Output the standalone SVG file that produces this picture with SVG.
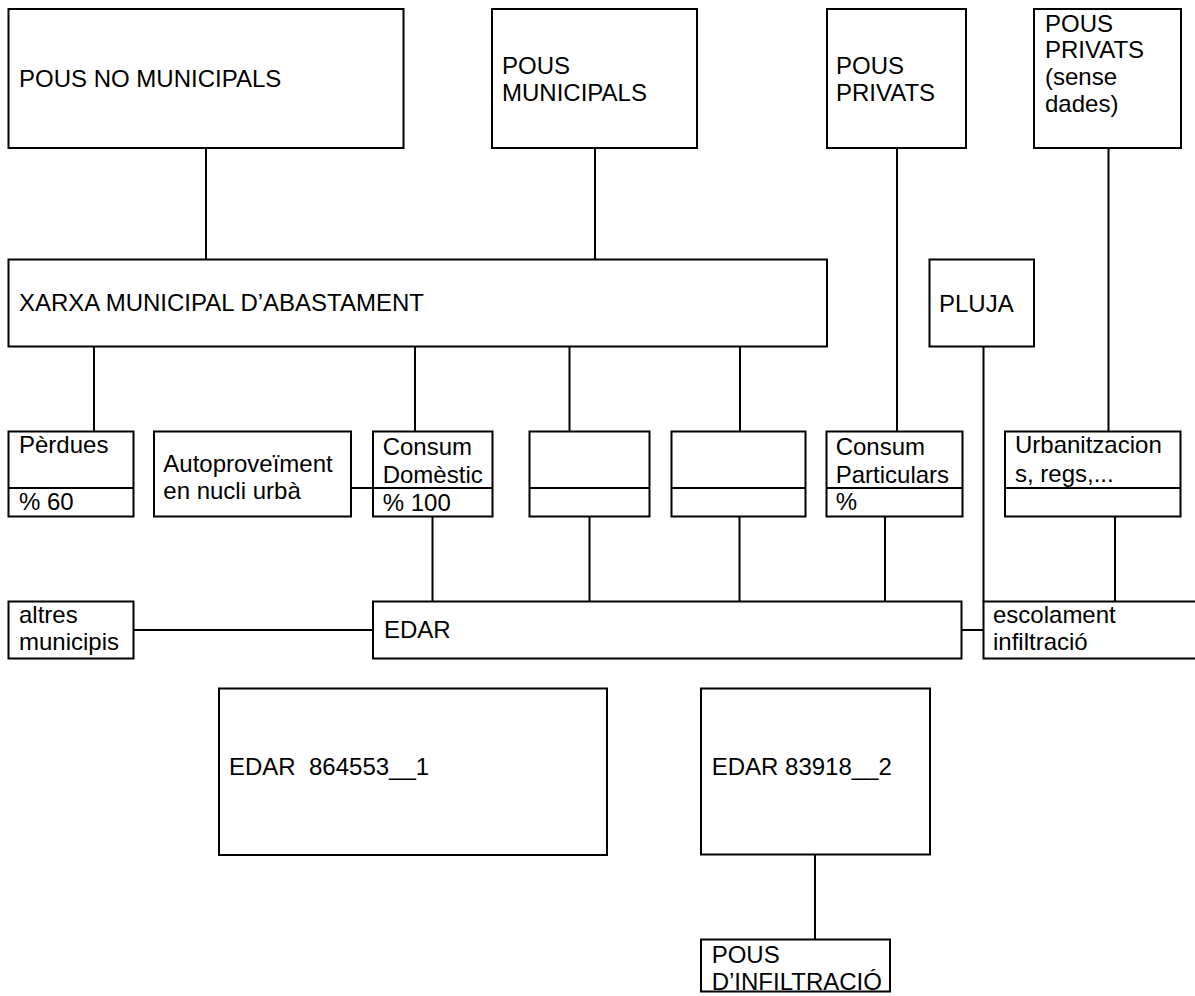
<svg xmlns="http://www.w3.org/2000/svg" width="1195" height="996" viewBox="0 0 1195 996">
<style>
rect{fill:#fff;stroke:#000;stroke-width:2}
line,path{stroke:#000;stroke-width:2;fill:none}
text{font-family:"Liberation Sans",Arial,sans-serif;font-size:24px;fill:#000}
</style>
<rect x="0" y="0" width="1195" height="996" style="stroke:none"/>
<g id="connectors">
<path d="M206,148V259.5M595,148V259.5M897,148V431.5M1108.5,148V431.5M94,346.5V431.5M415,346.5V431.5M569.5,346.5V431.5M740,346.5V431.5M983.5,346.5V601.5M351,488H373M432.5,516.5V601.5M589.5,516.5V601.5M739.5,516.5V601.5M885,516.5V601.5M1115,516.5V601.5M133.5,630H373M961.5,630H983.5M815,854.5V939.5"/>
</g>
<g id="pous_no_municipals"><rect x="8.5" y="9" width="395" height="139"/><text x="19" y="87">POUS NO MUNICIPALS</text></g>
<g id="pous_municipals"><rect x="492" y="9" width="205" height="139"/><text x="502" y="74">POUS</text><text x="502" y="100.7">MUNICIPALS</text></g>
<g id="pous_privats"><rect x="827" y="9" width="139" height="139"/><text x="836" y="74">POUS</text><text x="836" y="100.7">PRIVATS</text></g>
<g id="pous_privats_sense_dades"><rect x="1034" y="9" width="147" height="139"/><text x="1045" y="31.7">POUS</text><text x="1045" y="58.4">PRIVATS</text><text x="1045" y="85.1">(sense</text><text x="1045" y="111.8">dades)</text></g>
<g id="xarxa"><rect x="8.5" y="259.5" width="818.5" height="87"/><text x="19" y="310.7">XARXA MUNICIPAL D’ABASTAMENT</text></g>
<g id="pluja"><rect x="929.5" y="259.5" width="104.5" height="87"/><text x="939" y="311.7">PLUJA</text></g>
<g id="perdues"><rect x="8.5" y="431.5" width="125" height="85"/><path d="M8.5,488H133.5"/><text x="19" y="453.3">Pèrdues</text><text x="19" y="510">% 60</text></g>
<g id="autoproveiment"><rect x="154" y="431.5" width="197" height="85"/><text x="163.3" y="471.5">Autoproveïment</text><text x="163.3" y="498.5">en nucli urbà</text></g>
<g id="consum_domestic"><rect x="373" y="431.5" width="119.5" height="85"/><path d="M373,488H492.5"/><text x="382.7" y="455">Consum</text><text x="382.7" y="483">Domèstic</text><text x="382.7" y="510.5">% 100</text></g>
<g id="blank1"><rect x="529.5" y="431.5" width="120" height="85"/><path d="M529.5,488H649.5"/></g>
<g id="blank2"><rect x="671.5" y="431.5" width="134" height="85"/><path d="M671.5,488H805.5"/></g>
<g id="consum_particulars"><rect x="826.5" y="431.5" width="136" height="85"/><path d="M826.5,488H962.5"/><text x="835.7" y="455">Consum</text><text x="835.7" y="483">Particulars</text><text x="835.7" y="510">%</text></g>
<g id="urbanitzacions"><rect x="1005" y="431.5" width="175.5" height="85"/><path d="M1005,488H1180.5"/><text x="1015" y="453.3">Urbanitzacion</text><text x="1015" y="481.7">s, regs,...</text></g>
<g id="altres_municipis"><rect x="8.5" y="601.5" width="125" height="57"/><text x="19" y="623.3">altres</text><text x="19" y="650">municipis</text></g>
<g id="edar"><rect x="373" y="601.5" width="588.5" height="57"/><text x="384" y="638.3">EDAR</text></g>
<g id="escolament"><rect x="983.5" y="601.5" width="230" height="57"/><text x="993" y="623.3">escolament</text><text x="993" y="650">infiltració</text></g>
<g id="edar_1"><rect x="219" y="688.5" width="388" height="166.5"/><text x="229" y="775" xml:space="preserve">EDAR  864553__1</text></g>
<g id="edar_2"><rect x="701" y="688.5" width="229" height="166"/><text x="711.7" y="775">EDAR 83918__2</text></g>
<g id="pous_infiltracio"><rect x="701" y="939.5" width="189" height="52"/><text x="711.7" y="963.3">POUS</text><text x="711.7" y="990">D’INFILTRACIÓ</text></g>
</svg>
